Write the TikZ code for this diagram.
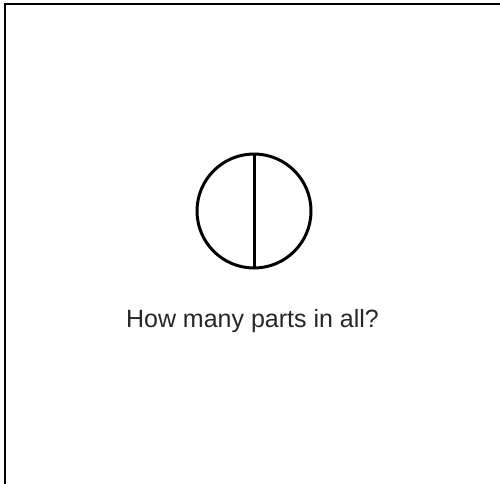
\documentclass[tikz,border=0pt]{standalone}
\usepackage{fontspec}
\setmainfont{Liberation Sans}
\begin{document}
\begin{tikzpicture}[x=1pt,y=1pt,
  frameline/.style={line width=2pt,line cap=rect},
  figline/.style={line width=3pt}]
\useasboundingbox (0,0) rectangle (500,-483);
\coordinate (fb) at (5,-483);
\coordinate (fc) at (5,-4);
\coordinate (fr) at (500,-4);
\draw[frameline] (fb) -- (fc) -- (fr);
\node[circle,draw,figline,minimum size=114pt,inner sep=0pt,outer sep=0pt] (c) at (254,-211) {};
\draw[figline] (c.north) -- (c.south);
\node[anchor=base,inner sep=0pt,font=\fontsize{25}{30}\selectfont,text=black!85] (q) at (252.5,-327) {How many parts in all?};
\end{tikzpicture}
\end{document}
